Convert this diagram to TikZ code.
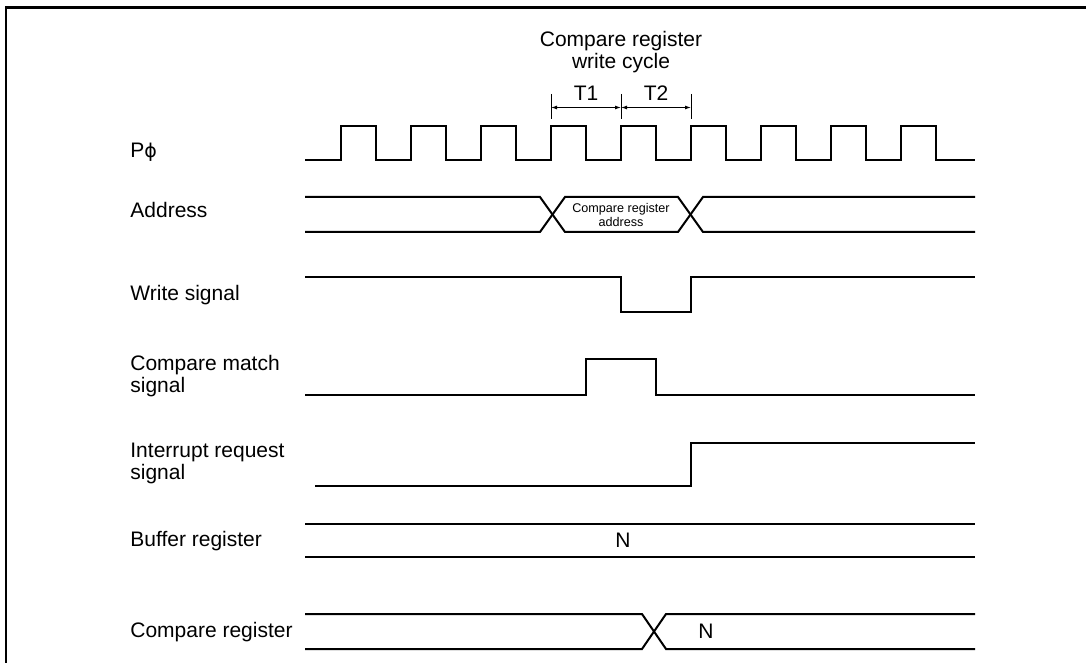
\documentclass[tikz,border=0pt]{standalone}
\usepackage{fontspec}
\setmainfont{Liberation Sans}
\newfontfamily\phifont{DejaVu Sans}
\usetikzlibrary{arrows.meta}

\begin{document}
\begin{tikzpicture}[x=0.5pt,y=-0.5pt,
 every node/.style={font=\fontsize{10.5}{11}\selectfont,inner sep=0pt},
 lbl/.style={anchor=base west,align=left},
 sig/.style={line width=1pt,line join=miter},
 dim/.style={{Latex[length=3pt,width=2pt]}-{Latex[length=3pt,width=2pt]},line width=0.5pt}]
\useasboundingbox (0,0) rectangle (1086,663);
\draw[line width=1.3pt] (6,663) -- (6,7.5) -- (1086,7.5);
\node[align=center,anchor=base] (wc) at (621,68.3) {Compare register\\write cycle};
\foreach \x/\n in {551/ta,621/tb,691/tc} {\draw[line width=0.5pt] (\x,94) -- (\x,119); \coordinate (\n) at (\x,107.5);}
\draw[dim] (ta) -- (tb);\draw[dim] (tb) -- (tc);
\node[anchor=base] (t1) at (586,101) {T1};
\node[anchor=base] (t2) at (656,101) {T2};
\node[lbl] (pphi) at (130,158) {P{\phifont\fontsize{9.5}{11}\selectfont ϕ}};
\node[lbl] (addr) at (130,217.7) {Address};
\node[lbl] (wr) at (130,300.7) {Write signal};
\node[lbl] (cm) at (130,392.7) {Compare match\\signal};
\node[lbl] (irq) at (130,479) {Interrupt request\\signal};
\node[lbl] (buf) at (130,546) {Buffer register};
\node[lbl] (creg) at (130,637) {Compare register};
\draw[sig] (305,160.5) \foreach \x in {341,411,...,901} {-- (\x,160.5) -- (\x,126) -- (\x+35,126) -- (\x+35,160.5)} -- (975,160.5);
\draw[sig] (305,197) -- (540,197) -- (565,232) -- (678,232) -- (703,197) -- (975,197);
\draw[sig] (305,232) -- (540,232) -- (565,197) -- (678,197) -- (703,232) -- (975,232);
\node[font=\fontsize{6.3}{7}\selectfont,align=center] (caddr) at (621,214.5) {Compare register\\address};
\draw[sig] (305,277) -- (621,277) -- (621,312) -- (691,312) -- (691,277) -- (975,277);
\draw[sig] (305,395) -- (586,395) -- (586,359) -- (656,359) -- (656,395) -- (975,395);
\draw[sig] (315,486) -- (691,486) -- (691,443) -- (975,443);
\draw[sig] (305,524) -- (975,524);
\draw[sig] (305,557) -- (975,557);
\node (bn) at (623,540.5) {N};
\draw[sig] (305,614) -- (642,614) -- (666,649) -- (975,649);
\draw[sig] (305,649) -- (642,649) -- (666,614) -- (975,614);
\node (cn) at (706,631.5) {N};
\end{tikzpicture}
\end{document}
